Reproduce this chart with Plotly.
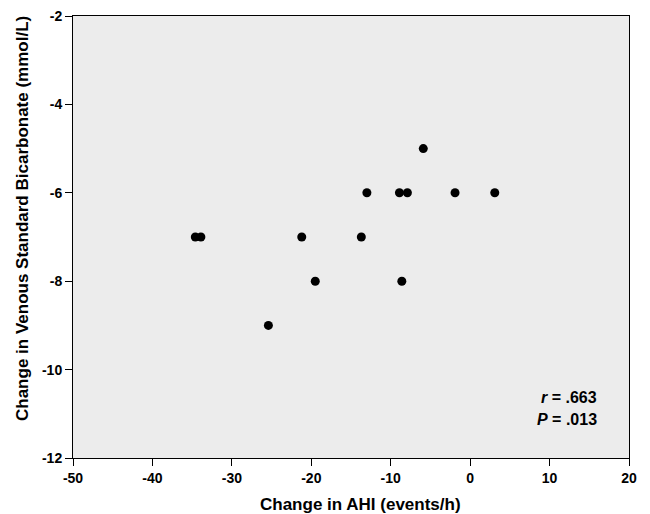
import plotly.graph_objects as go

ahi_change = [-34.6, -33.9, -25.4, -21.2, -19.5, -13.7, -13.0, -8.9, -7.9, -8.6, -5.9, -1.9, 3.1]
bicarb_change = [-7, -7, -9, -7, -8, -7, -6, -6, -6, -8, -5, -6, -6]
x_ticks = [-50, -40, -30, -20, -10, 0, 10, 20]
y_ticks = [-12, -10, -8, -6, -4, -2]

font_family = "Liberation Sans, Arial, sans-serif"

fig = go.Figure()
fig.add_trace(go.Scatter(
    x=ahi_change, y=bicarb_change, mode="markers",
    marker=dict(color="black", size=9),
    showlegend=False,
))

fig.update_layout(
    width=650, height=514,
    margin=dict(l=73, r=21, t=16, b=56),
    paper_bgcolor="white",
    plot_bgcolor="#ececec",
    font=dict(family=font_family, color="black"),
    xaxis=dict(
        range=[-50, 20], tickvals=x_ticks, ticktext=[str(v) for v in x_ticks],
        showgrid=False, zeroline=False, ticks="outside", ticklen=7, tickcolor="black",
        showline=True, linecolor="black", linewidth=1, mirror=True, automargin=False,
        tickfont=dict(size=14, family=font_family, color="black", weight="bold"),
    ),
    yaxis=dict(
        range=[-12, -2], tickvals=y_ticks, ticktext=[str(v) for v in y_ticks],
        showgrid=False, zeroline=False, ticks="outside", ticklen=7, tickcolor="black",
        showline=True, linecolor="black", linewidth=1, mirror=True, automargin=False,
        tickfont=dict(size=14, family=font_family, color="black", weight="bold"),
    ),
    annotations=[
        dict(text="<b>Change in AHI (events/h)</b>", xref="paper", yref="paper",
             x=(360 - 73) / 556, y=-(504 - 458) / 442, xanchor="center", yanchor="middle",
             showarrow=False, font=dict(size=17)),
        dict(text="<b>Change in Venous Standard Bicarbonate (mmol/L)</b>", xref="paper", yref="paper",
             x=-(73 - 22) / 556, y=(458 - 219) / 442, xanchor="center", yanchor="middle",
             textangle=-90, showarrow=False, font=dict(size=17)),
        dict(text="<b><i>r</i> = .663</b>", xref="paper", yref="paper", x=0.946, y=0.138,
             xanchor="right", yanchor="middle", showarrow=False, font=dict(size=16)),
        dict(text="<b><i>P</i> = .013</b>", xref="paper", yref="paper", x=0.946, y=0.086,
             xanchor="right", yanchor="middle", showarrow=False, font=dict(size=16)),
    ],
)

fig.write_html("out.html", config={"displayModeBar": False},
               post_script="document.body.style.margin='0';")
